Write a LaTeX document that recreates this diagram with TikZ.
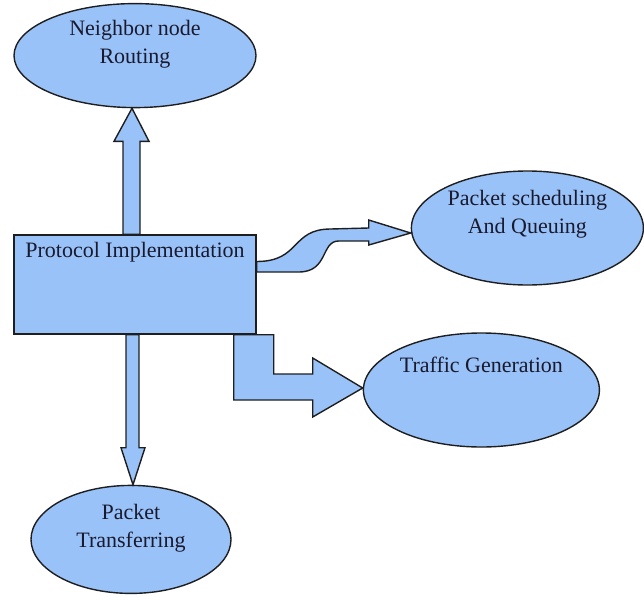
\documentclass[tikz,border=0pt]{standalone}
\usepackage{fontspec}
\setmainfont{Liberation Serif}
\usepackage{tikz}
\usetikzlibrary{positioning,shapes.geometric,calc}
\definecolor{fillblue}{HTML}{99C2F9}
\definecolor{edgedark}{HTML}{1E1E1E}
\definecolor{textdark}{HTML}{1A1A2E}
\tikzset{
  block/.style ={rectangle, draw=edgedark, fill=fillblue, line width=1.4pt, inner sep=0pt},
  bubble/.style={ellipse, draw=edgedark, fill=fillblue, line width=1.4pt, inner sep=0pt},
  txt/.style   ={align=center, font=\fontsize{22}{28}\selectfont, text=textdark, inner sep=0pt},
  fatarrow/.style={draw=edgedark, fill=fillblue, line width=1.4pt, line join=miter},
}

\begin{document}
\begin{tikzpicture}[x=1pt, y=1pt]
\useasboundingbox (0,0) rectangle (644,-599);

% central block
\node[block, minimum width=242pt, minimum height=99pt,
  label={[txt, yshift=32.5pt]center:Protocol Implementation}] (proto) at (135,-284.5) {};

% ellipses round it
\node[bubble, above=126pt of proto, minimum width=242pt, minimum height=104pt,
  label={[txt, yshift=11pt]center:Neighbor node\\Routing}] (route) {};
\node[bubble, right=154pt of proto, yshift=56.5pt, minimum width=232pt, minimum height=114pt,
  label={[txt, yshift=14pt]center:Packet scheduling\\And Queuing}] (sched) {};
\node[bubble, right=106pt of proto, yshift=-105.5pt, minimum width=236pt, minimum height=114pt,
  label={[txt, yshift=25pt]center:Traffic Generation}] (traffic) {};
\node[bubble, below=150pt of proto, xshift=-4pt, minimum width=200pt, minimum height=108pt,
  label={[txt, yshift=11.5pt]center:Packet\\Transferring}] (transfer) {};

% block arrows
\filldraw[fatarrow] ([xshift=-12pt]proto.north) |- ([xshift=-21pt,yshift=-33pt]route.south)
  -- ([xshift=-3pt]route.south) -- ([xshift=14pt,yshift=-33pt]route.south)
  -| ([xshift=5pt]proto.north) -- cycle;

\filldraw[fatarrow] ([xshift=-9pt]proto.south) |- ([xshift=-10pt,yshift=37pt]transfer.north)
  -- ([xshift=2pt]transfer.north) -- ([xshift=14pt,yshift=37pt]transfer.north)
  -| ([xshift=4pt]proto.south) -- cycle;

\filldraw[fatarrow] ([xshift=-23pt]proto.south east) |- ([xshift=-50pt,yshift=-10pt]traffic.west)
  -- ([xshift=-50pt,yshift=-27pt]traffic.west) -- ([yshift=2pt]traffic.west)
  -- ([xshift=-50pt,yshift=32pt]traffic.west) -- ([xshift=-50pt,yshift=16pt]traffic.west)
  -| ([xshift=17pt]proto.south east) -- cycle;

\coordinate (qtip) at ([yshift=-5pt]sched.west);
\filldraw[fatarrow] ([yshift=23pt]proto.east)
  .. controls +(44,0) and +(-40,0) .. ([xshift=-80pt,yshift=4pt]qtip)
  -- ([xshift=-42pt,yshift=5pt]qtip) -- ([xshift=-42pt,yshift=13pt]qtip)
  -- (qtip)
  -- ([xshift=-42pt,yshift=-12pt]qtip) -- ([xshift=-42pt,yshift=-8pt]qtip)
  -- ([xshift=-72pt,yshift=-8pt]qtip)
  .. controls +(-18,0) and +(30,0) .. ([xshift=-112pt,yshift=-39pt]qtip)
  -- ([yshift=12.5pt]proto.east) -- cycle;

\end{tikzpicture}
\end{document}
